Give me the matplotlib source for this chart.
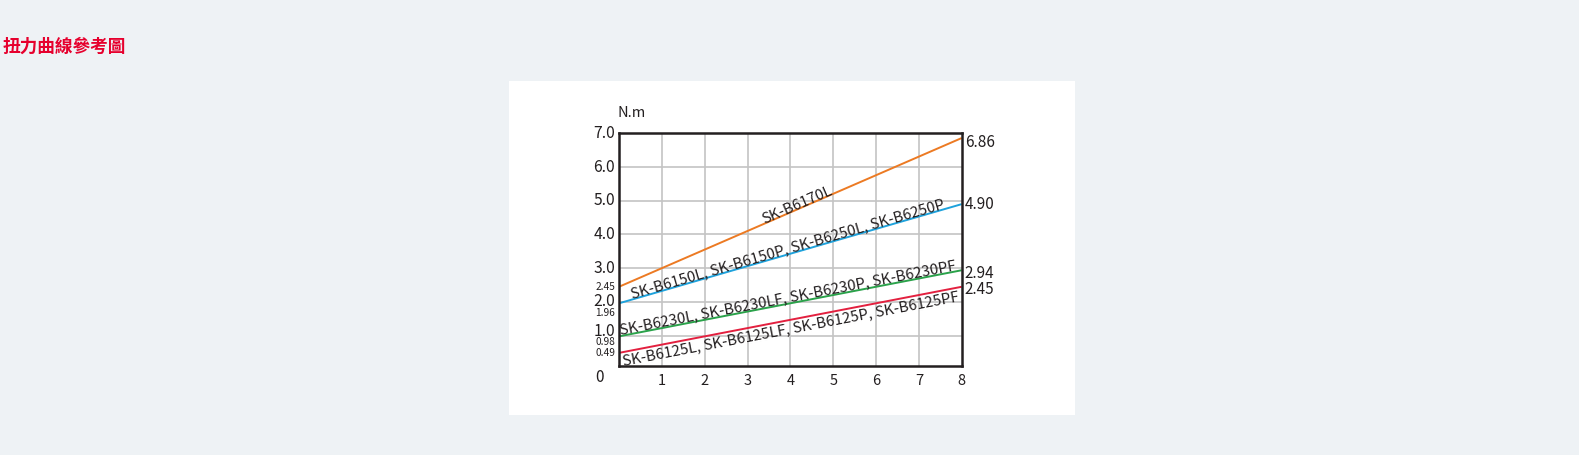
import numpy as np
import matplotlib
matplotlib.use("Agg")
import matplotlib.pyplot as plt
import matplotlib.transforms as mtransforms

plt.rcParams['font.family'] = ['Noto Sans CJK TC', 'DejaVu Sans']

# ---- data ----
title = "扭力曲線參考圖"
unit_label = "N.m"
x_range = [0, 8]
series_names = [
    "SK-B6170L",
    "SK-B6150L, SK-B6150P, SK-B6250L, SK-B6250P",
    "SK-B6230L, SK-B6230LF, SK-B6230P, SK-B6230PF",
    "SK-B6125L, SK-B6125LF, SK-B6125P, SK-B6125PF",
]
start_values = [2.45, 1.96, 0.98, 0.49]
end_values = [6.86, 4.90, 2.94, 2.45]
series_colors = ["#ec7a23", "#1ea2dc", "#2aa24a", "#e3203f"]
label_x = [3.4, 0.3, 0.04, 0.06]
label_va = ["baseline", "baseline", "baseline", "top"]
label_dy = [0.0, 0.04, 0.06, -0.06]
x_ticks = [1, 2, 3, 4, 5, 6, 7, 8]
y_grid = [1, 2, 3, 4, 5, 6, 7]
y_major_ticks = [7.0, 6.0, 5.0, 4.0, 3.0, 2.0, 1.0]
y_major_labels = ["7.0", "6.0", "5.0", "4.0", "3.0", "2.0", "1.0"]
y_minor_ticks = [2.45, 1.96, 0.98, 0.49]
y_minor_labels = ["2.45", "1.96", "0.98", "0.49"]
y_minor_offsets = [0.0, -0.28, -0.18, 0.0]
y_major_offsets = [0, 0, 0, 0, 0, 0.0, 0.12]
end_offsets = [-0.14, 0.0, -0.1, -0.08]

W, H = 1579, 455
fig = plt.figure(figsize=(W / 100, H / 100), dpi=100)
fig.patch.set_facecolor("#eef2f5")

# white panel
panel = fig.add_axes([509 / W, 1 - 415 / H, (1075 - 509) / W, (415 - 81) / H], zorder=0)
panel.set_facecolor("white")
panel.set_xticks([]); panel.set_yticks([])
for sp in panel.spines.values():
    sp.set_visible(False)

fig.text(3 / W, 1 - 47 / H, title, color="#e6002d", fontsize=12.7,
         ha="left", va="center", fontweight="bold", family=['Noto Sans CJK TC'])

ax = fig.add_axes([619 / W, 1 - 365.7 / H, (961.7 - 619) / W, (365.7 - 133.3) / H], zorder=2)
ax.set_xlim(*x_range)
ax.set_ylim(0.11, 7.0)
ax.set_facecolor("white")

for gx in x_ticks[:-1]:
    ax.axvline(gx, color="#c4c4c4", lw=1.2, zorder=1)
for gy in y_grid[:-1]:
    ax.axhline(gy, color="#c4c4c4", lw=1.2, zorder=1)

for sp in ax.spines.values():
    sp.set_color("#231f20")
    sp.set_linewidth(1.8)
    sp.set_zorder(5)

text_color = "#231f20"
for name, s, e, c, lx, va, dy in zip(series_names, start_values, end_values, series_colors,
                                     label_x, label_va, label_dy):
    xs = np.array(x_range, dtype=float)
    ys = np.array([s, e])
    ax.plot(xs, ys, color=c, lw=1.4, zorder=3, solid_capstyle="butt")
    slope = (e - s) / (x_range[1] - x_range[0])
    ang = np.degrees(np.arctan(slope))
    ly = s + slope * (lx - x_range[0]) + dy
    ax.text(lx, ly, name, rotation=ang, transform_rotates_text=True,
            rotation_mode="anchor", ha="left", va=va, fontsize=10.8,
            color=text_color, zorder=4)

ax.set_xticks(x_ticks)
ax.set_xticklabels([str(t) for t in x_ticks], fontsize=10.5, color=text_color)
ax.tick_params(axis="x", length=0, pad=6)
ax.set_yticks([])

ytr = mtransforms.blended_transform_factory(ax.transAxes, ax.transData)
off = mtransforms.offset_copy(ytr, fig=fig, x=-4, y=0, units="dots")
for v, lab, o in zip(y_major_ticks, y_major_labels, y_major_offsets):
    ax.text(0, v + o, lab, transform=off, ha="right", va="center",
            fontsize=11.3, color=text_color, clip_on=False)
for v, lab, o in zip(y_minor_ticks, y_minor_labels, y_minor_offsets):
    ax.text(0, v + o, lab, transform=off, ha="right", va="center",
            fontsize=7.3, color=text_color, clip_on=False)

# "0" at bottom left corner
fig.text(599 / W, 1 - 377 / H, "0", ha="center", va="center",
         fontsize=11, color=text_color)

# right end labels
offr = mtransforms.offset_copy(ytr, fig=fig, x=3, y=0, units="dots")
for e, o in zip(end_values, end_offsets):
    ax.text(1, e + o, f"{e:.2f}", transform=offr, ha="left", va="center",
            fontsize=11, color=text_color, clip_on=False)

fig.text(631.7 / W, 1 - 112.7 / H, unit_label, ha="center", va="center",
         fontsize=10.5, color=text_color)

fig.savefig("out.png", dpi=100, facecolor=fig.get_facecolor())
